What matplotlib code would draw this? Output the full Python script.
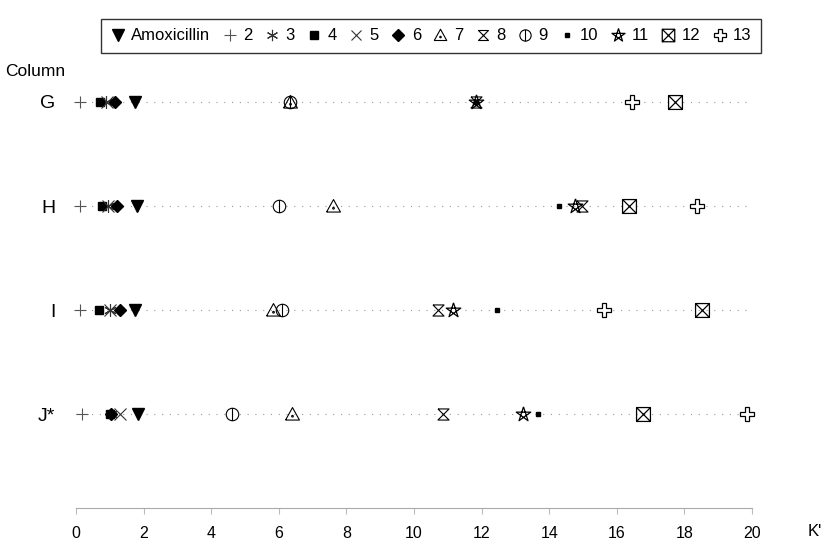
import matplotlib
matplotlib.use("Agg")
import matplotlib.pyplot as plt
from matplotlib.path import Path
import numpy as np

plt.rcParams["font.family"] = ["Liberation Sans", "DejaVu Sans"]

# rows (columns tested), top to bottom
rows = ["G", "H", "I", "J*"]
row_pos = [4, 3, 2, 1]

# K' values for each compound, in row order G, H, I, J*
amoxicillin = [1.75, 1.80, 1.75, 1.83]
c2 = [0.12, 0.12, 0.12, 0.18]
c3 = [0.90, 0.95, 1.00, 1.05]
c4 = [0.70, 0.77, 0.68, 1.00]
c5 = [0.92, 0.95, 1.00, 1.30]
c6 = [1.15, 1.21, 1.30, 1.05]
c7 = [6.33, 7.60, 5.83, 6.39]
c8 = [11.83, 14.97, 10.71, 10.85]
c9 = [6.33, 6.00, 6.10, 4.62]
c10 = [11.83, 14.29, 12.46, 13.67]
c11 = [11.83, 14.76, 11.15, 13.22]
c12 = [17.72, 16.36, 18.52, 16.77]
c13 = [16.45, 18.37, 15.62, 19.85]

labels = ["Amoxicillin", "2", "3", "4", "5", "6", "7", "8", "9", "10", "11", "12", "13"]
series = [amoxicillin, c2, c3, c4, c5, c6, c7, c8, c9, c10, c11, c12, c13]
xticks = [0, 2, 4, 6, 8, 10, 12, 14, 16, 18, 20]

# custom marker shapes
hourglass = Path([(-1, 1), (1, 1), (-1, -1), (1, -1), (-1, 1)])
box_x = Path([(-1, -1), (1, -1), (1, 1), (-1, 1), (-1, -1), (1, 1), (-1, 1), (1, -1)],
             [1, 2, 2, 2, 2, 2, 1, 2])
circ_line = Path.make_compound_path(Path.unit_circle(), Path([(0, -1), (0, 1)]))
tri = Path([(-1, -0.8), (1, -0.8), (0, 1), (-1, -0.8)])
dot = Path.circle((0, -0.25), 0.12)
tri_dot = Path.make_compound_path(tri, dot)
ang = np.deg2rad(90 + 144 * np.arange(6))
pentagram = Path(np.column_stack([np.cos(ang), np.sin(ang)]))

styles = [
    dict(marker="v", ms=9, mfc="black", mec="black"),
    dict(marker="+", ms=9, mec="#555555", mew=0.8),
    dict(marker=(6, 2, 0), ms=9, mec="#333333", mew=0.8),
    dict(marker="s", ms=6, mfc="black", mec="black"),
    dict(marker="x", ms=8, mec="#333333", mew=0.8),
    dict(marker="D", ms=6.5, mfc="black", mec="black"),
    dict(marker=tri_dot, ms=10, mfc="none", mec="black", mew=0.8),
    dict(marker=hourglass, ms=8, mfc="white", mec="black", mew=0.8),
    dict(marker=circ_line, ms=9, mfc="none", mec="black", mew=0.8),
    dict(marker="s", ms=3.5, mfc="black", mec="black"),
    dict(marker=pentagram, ms=11, mfc="none", mec="black", mew=0.9),
    dict(marker=box_x, ms=10, mfc="none", mec="black", mew=0.9),
    dict(marker="P", ms=10, mfc="white", mec="black", mew=0.9),
]

fig = plt.figure(figsize=(8.31, 5.47), dpi=100)
ax = fig.add_axes([76 / 831, 39 / 547, 676 / 831, 428 / 547])

# dotted guide line for every row
for y in row_pos:
    ax.plot([0, 20.4], [y, y], ls=(0, (1, 6)), color="#999999", lw=0.8, zorder=1)

handles = []
for vals, lab, st in zip(series, labels, styles):
    h, = ax.plot(vals, row_pos, ls="none", label=lab, clip_on=False, zorder=3, **st)
    handles.append(h)

ax.set_xlim(0, 20)
ax.set_ylim(0.1, 4.21)
ax.set_xticks(xticks)
ax.set_xticklabels([str(t) for t in xticks], fontsize=11.5)
ax.set_yticks(row_pos)
ax.set_yticklabels(rows, fontsize=14)
ax.tick_params(axis="y", length=0, pad=15)
ax.tick_params(axis="x", length=4, color="#bbbbbb", pad=9)
for s in ["left", "right", "top"]:
    ax.spines[s].set_visible(False)
ax.spines["bottom"].set_color("#aaaaaa")
ax.spines["bottom"].set_linewidth(0.8)

fig.text(5 / 831, 1 - 72 / 547, "Column", fontsize=12.5, va="center")
fig.text(808 / 831, 1 - 531 / 547, "K'", fontsize=12, va="center")

leg = fig.legend(handles=handles, loc="upper center", bbox_to_anchor=(431 / 831, 1 - 11 / 547),
                 ncol=13, fontsize=12, frameon=True, fancybox=False, edgecolor="black",
                 handlelength=0.9, handletextpad=0.35, columnspacing=0.72, borderpad=0.55,
                 markerscale=0.9)
leg.get_frame().set_linewidth(1.0)

fig.savefig("out.png", dpi=100)
